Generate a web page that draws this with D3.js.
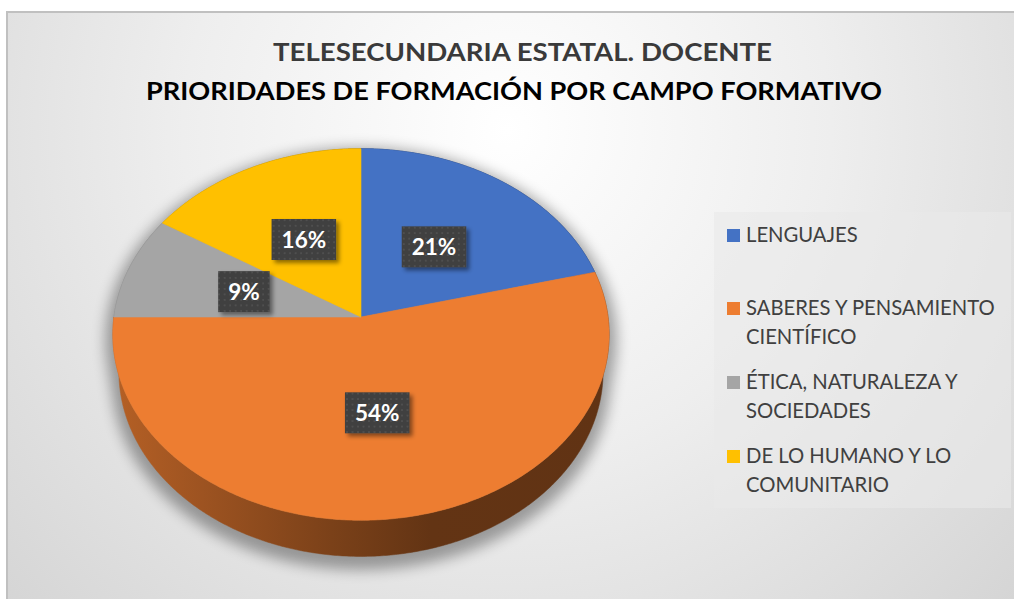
<!DOCTYPE html>
<html>
<head>
<meta charset="utf-8">
<script src="https://cdn.jsdelivr.net/npm/d3@7"></script>
<style>
  html, body { margin: 0; padding: 0; background: #ffffff; }
  svg { display: block; }
</style>
</head>
<body>
<svg id="chart" width="1014" height="599"></svg>
<script>
// ---- data ----
const titleLines = ["TELESECUNDARIA ESTATAL. DOCENTE", "PRIORIDADES DE FORMACIÓN POR CAMPO FORMATIVO"];
const categories = ["LENGUAJES", "SABERES Y PENSAMIENTO CIENTÍFICO", "ÉTICA, NATURALEZA Y SOCIEDADES", "DE LO HUMANO Y LO COMUNITARIO"];
const legendLines = [["LENGUAJES"], ["SABERES Y PENSAMIENTO", "CIENTÍFICO"], ["ÉTICA, NATURALEZA Y", "SOCIEDADES"], ["DE LO HUMANO Y LO", "COMUNITARIO"]];
const values = [21, 54, 9, 16];
const colors = ["#4472c4", "#ed7d31", "#a5a5a5", "#ffc000"];

const svg = d3.select("#chart");
const defs = svg.append("defs");

// ---- background ----
const bg = defs.append("radialGradient").attr("id", "bgGrad")
  .attr("gradientUnits", "userSpaceOnUse").attr("cx", 507).attr("cy", 130).attr("r", 720);
bg.append("stop").attr("offset", 0).attr("stop-color", "#ffffff");
bg.append("stop").attr("offset", 0.45).attr("stop-color", "#eeeeee");
bg.append("stop").attr("offset", 1).attr("stop-color", "#d3d3d3");

svg.append("rect").attr("x", 7).attr("y", 12).attr("width", 1020).attr("height", 600)
  .attr("fill", "url(#bgGrad)").attr("stroke", "#c0c0c0").attr("stroke-width", 2);

// ---- title ----
const titleG = svg.append("g").attr("font-family", "Lato, 'Open Sans', sans-serif").attr("font-weight", "bold");
titleG.append("text").attr("x", 273).attr("y", 61).attr("font-size", 24.5)
  .attr("fill", "#3a3a3a").attr("textLength", 499).attr("lengthAdjust", "spacingAndGlyphs")
  .text(titleLines[0]);
titleG.append("text").attr("x", 146).attr("y", 100).attr("font-size", 24.5)
  .attr("fill", "#000000").attr("textLength", 736).attr("lengthAdjust", "spacingAndGlyphs")
  .text(titleLines[1]);

// ---- 3D pie projection ----
const cx = 361, cy = 317;           // screen position of pie centre
const elev = 48.2 * Math.PI / 180;  // viewing elevation
const camDist = 7.1;                // camera distance (in radii)
const focal = 1754;                 // focal length in px
const thick = 0.235;                // pie thickness (in radii)

function project(phi, r, y) {
  const X = r * Math.sin(phi);
  const Z = -r * Math.cos(phi);
  const yUp = y * Math.cos(elev) - Z * Math.sin(elev);
  const zc = camDist - (Z * Math.cos(elev) + y * Math.sin(elev));
  return [cx + focal * X / zc, cy - focal * yUp / zc];
}

const pie = d3.pie().sort(null).value(d => d)(values);
const line = d3.line();
const step = Math.PI / 360;

function arcPoints(a0, a1, r, y) {
  const n = Math.max(2, Math.ceil((a1 - a0) / step));
  return d3.range(n + 1).map(i => project(a0 + (a1 - a0) * i / n, r, y));
}

// shadow under the pie
const shadowF = defs.append("filter").attr("id", "pieShadow")
  .attr("x", "-20%").attr("y", "-20%").attr("width", "140%").attr("height", "140%");
shadowF.append("feGaussianBlur").attr("stdDeviation", 7);

const hullPts = d3.polygonHull(arcPoints(0, 2 * Math.PI, 1, 0).concat(arcPoints(0, 2 * Math.PI, 1, -thick)));
svg.append("path")
  .attr("d", line(hullPts.map(p => [cx + (p[0] - cx) * 1.03, cy + 5 + (p[1] - cy) * 1.035])) + "Z")
  .attr("fill", "#000").attr("opacity", 0.34).attr("filter", "url(#pieShadow)");

// side shading gradients (lit from the left)
pie.forEach((d, i) => {
  const g = defs.append("linearGradient").attr("id", "side" + i)
    .attr("gradientUnits", "userSpaceOnUse").attr("x1", 113).attr("x2", 609).attr("y1", 0).attr("y2", 0);
  const c = d3.rgb(colors[i]);
  g.append("stop").attr("offset", 0).attr("stop-color", c.darker(0.75));
  g.append("stop").attr("offset", 0.18).attr("stop-color", c.darker(1.15));
  g.append("stop").attr("offset", 0.44).attr("stop-color", c.darker(1.85));
  g.append("stop").attr("offset", 0.64).attr("stop-color", c.darker(2.45));
  g.append("stop").attr("offset", 1).attr("stop-color", c.darker(2.5));
});

// sides, drawn back to front
const sides = pie.map((d, i) => {
  const top = arcPoints(d.startAngle, d.endAngle, 1, 0);
  const bot = arcPoints(d.startAngle, d.endAngle, 1, -thick).reverse();
  const mid = (d.startAngle + d.endAngle) / 2;
  return { i, pts: top.concat(bot), depth: -Math.cos(mid) };
}).sort((a, b) => a.depth - b.depth);

svg.append("g").selectAll("path").data(sides).join("path")
  .attr("d", s => line(s.pts) + "Z")
  .attr("fill", s => `url(#side${s.i})`)
  .attr("stroke", s => `url(#side${s.i})`).attr("stroke-width", 0.5);

// top faces
svg.append("g").selectAll("path").data(pie).join("path")
  .attr("d", d => line([project(0, 0, 0)].concat(arcPoints(d.startAngle, d.endAngle, 1, 0))) + "Z")
  .attr("fill", (d, i) => colors[i])
  .attr("stroke", (d, i) => colors[i]).attr("stroke-width", 0.6);

// ---- data labels ----
const dots = defs.append("pattern").attr("id", "dotGrid").attr("patternUnits", "userSpaceOnUse")
  .attr("width", 5.5).attr("height", 5.5);
dots.append("rect").attr("width", 5.5).attr("height", 5.5).attr("fill", "#404040");
dots.append("circle").attr("cx", 2.75).attr("cy", 2.75).attr("r", 0.9).attr("fill", "#555555");

const boxShadow = defs.append("filter").attr("id", "boxShadow")
  .attr("x", "-30%").attr("y", "-30%").attr("width", "170%").attr("height", "170%");
boxShadow.append("feDropShadow").attr("dx", 3).attr("dy", 3).attr("stdDeviation", 2.2)
  .attr("flood-color", "#000").attr("flood-opacity", 0.45);

const total = d3.sum(values);
const labels = svg.append("g").selectAll("g").data(pie).join("g")
  .attr("transform", d => {
    const p = project((d.startAngle + d.endAngle) / 2, 0.5, 0);
    return `translate(${p[0]},${p[1]})`;
  });
const rects = labels.append("rect").attr("fill", "url(#dotGrid)").attr("filter", "url(#boxShadow)");
const texts = labels.append("text")
  .attr("text-anchor", "middle").attr("dy", "0.36em")
  .attr("font-family", "Lato, 'Open Sans', sans-serif").attr("font-weight", "bold")
  .attr("font-size", 22.5).attr("fill", "#ffffff")
  .text(d => Math.round(d.value / total * 100) + "%");
texts.each(function () {
  const w = this.getComputedTextLength() + 20;
  d3.select(this.parentNode).select("rect")
    .attr("x", -w / 2).attr("y", -20.5).attr("width", w).attr("height", 41);
});

// ---- legend ----
svg.append("rect").attr("x", 714).attr("y", 212).attr("width", 297).attr("height", 296)
  .attr("fill", "#e9e9e9").attr("opacity", 0.6);

const itemBase = [242, 315, 389, 463];
const lineGap = 29;
const legend = svg.append("g");
legend.selectAll("rect.sw").data(categories).join("rect").attr("class", "sw")
  .attr("x", 727).attr("y", (d, i) => itemBase[i] - 13).attr("width", 13).attr("height", 13)
  .attr("fill", (d, i) => colors[i]);

const legText = legend.append("g").attr("font-family", "Lato, 'Open Sans', sans-serif")
  .attr("font-size", 20.5).attr("fill", "#404040");
legendLines.forEach((lines, i) => {
  lines.forEach((t, j) => {
    legText.append("text").attr("x", 0).attr("y", itemBase[i] + j * lineGap).text(t);
  });
});
// fit the legend text to its column width
let widest = 0;
legText.selectAll("text").each(function () { widest = Math.max(widest, this.getComputedTextLength()); });
legText.attr("transform", `translate(746,0) scale(${249 / widest},1)`);
</script>
</body>
</html>
